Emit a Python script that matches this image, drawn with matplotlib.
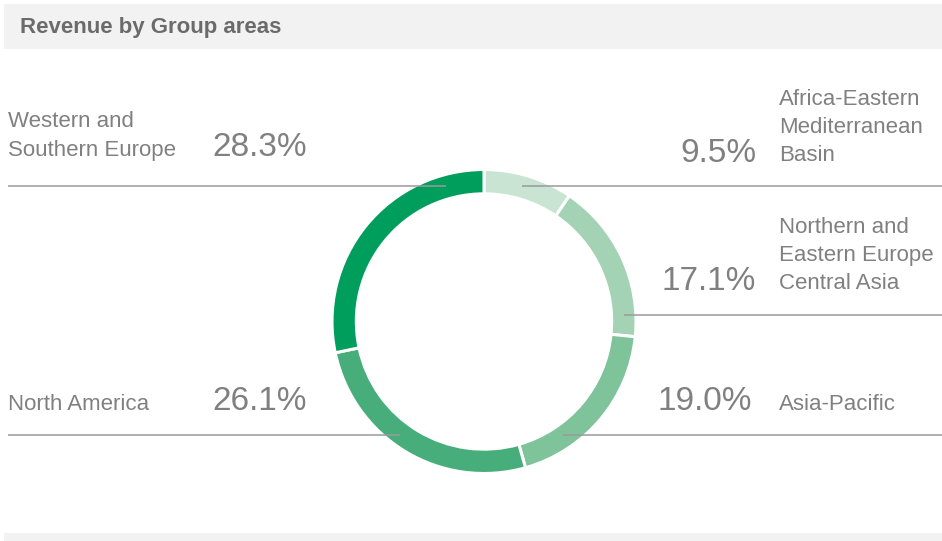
import matplotlib
matplotlib.use("Agg")
import matplotlib.pyplot as plt
from matplotlib.patches import Rectangle

# Data (clockwise from 12 o'clock)
regions = ["Africa-Eastern\nMediterranean\nBasin",
           "Northern and\nEastern Europe\nCentral Asia",
           "Asia-Pacific",
           "North America",
           "Western and\nSouthern Europe"]
shares = [9.5, 17.1, 19.0, 26.1, 28.3]
colors = ["#c9e4d2", "#a4d2b4", "#7ec39a", "#47ae7b", "#009e5c"]
title = "Revenue by Group areas"

W, H = 942, 541
fig = plt.figure(figsize=(W / 100, H / 100), dpi=100)
fig.patch.set_facecolor("white")

# donut axes
cx, cy, R = 484, 321.5, 152
axp = fig.add_axes([(cx - R) / W, (H - cy - R) / H, 2 * R / W, 2 * R / H])
axp.pie(shares, colors=colors, startangle=90, counterclock=False, radius=1,
        wedgeprops=dict(width=0.16, edgecolor="white", linewidth=2.2))
axp.set_xlim(-1.0, 1.0)
axp.set_ylim(-1.0, 1.0)
axp.axis("off")

# overlay in pixel coordinates
ov = fig.add_axes([0, 0, 1, 1], zorder=5)
ov.set_xlim(0, W)
ov.set_ylim(H, 0)
ov.axis("off")
ov.patch.set_alpha(0)

ov.add_patch(Rectangle((4, 4), W - 4, 45, facecolor="#f2f2f2", edgecolor="none"))
ov.add_patch(Rectangle((4, 533), W - 4, 10, facecolor="#f2f2f2", edgecolor="none"))
ov.text(20, 28, title, fontsize=16, fontweight="bold", color="#6b6b6b",
        family="Liberation Sans", va="center", ha="left")

lc = "#9a9a9a"
for (x0, x1, y) in [(8, 446, 186), (522, W, 186), (624, W, 315),
                    (8, 400, 435), (563, W, 435)]:
    ov.plot([x0, x1], [y, y], color=lc, lw=1.1, solid_capstyle="butt")

tc = "#808080"
fam = "Liberation Sans"
lab_fs = 16
pct_fs = 24
ls = 1.45

def pct(v):
    return f"{v:.1f}%"

# Western and Southern Europe (left top)
ov.text(8, 136, regions[4], fontsize=lab_fs, color=tc, family=fam,
        va="center", ha="left", linespacing=ls)
ov.text(212, 147, pct(shares[4]), fontsize=pct_fs, color=tc, family=fam,
        va="center", ha="left")
# North America (left bottom)
ov.text(8, 405, regions[3], fontsize=lab_fs, color=tc, family=fam,
        va="center", ha="left")
ov.text(212, 402, pct(shares[3]), fontsize=pct_fs, color=tc, family=fam,
        va="center", ha="left")
# Africa-Eastern Mediterranean Basin
ov.text(779, 127.5, regions[0], fontsize=lab_fs, color=tc, family=fam,
        va="center", ha="left", linespacing=ls)
ov.text(756, 153, pct(shares[0]), fontsize=pct_fs, color=tc, family=fam,
        va="center", ha="right")
# Northern and Eastern Europe Central Asia
ov.text(779, 255.5, regions[1], fontsize=lab_fs, color=tc, family=fam,
        va="center", ha="left", linespacing=ls)
ov.text(756, 282, pct(shares[1]), fontsize=pct_fs, color=tc, family=fam,
        va="center", ha="right")
# Asia-Pacific
ov.text(779, 405, regions[2], fontsize=lab_fs, color=tc, family=fam,
        va="center", ha="left")
ov.text(752, 402, pct(shares[2]), fontsize=pct_fs, color=tc, family=fam,
        va="center", ha="right")

fig.savefig("out.png", dpi=100, facecolor="white")
